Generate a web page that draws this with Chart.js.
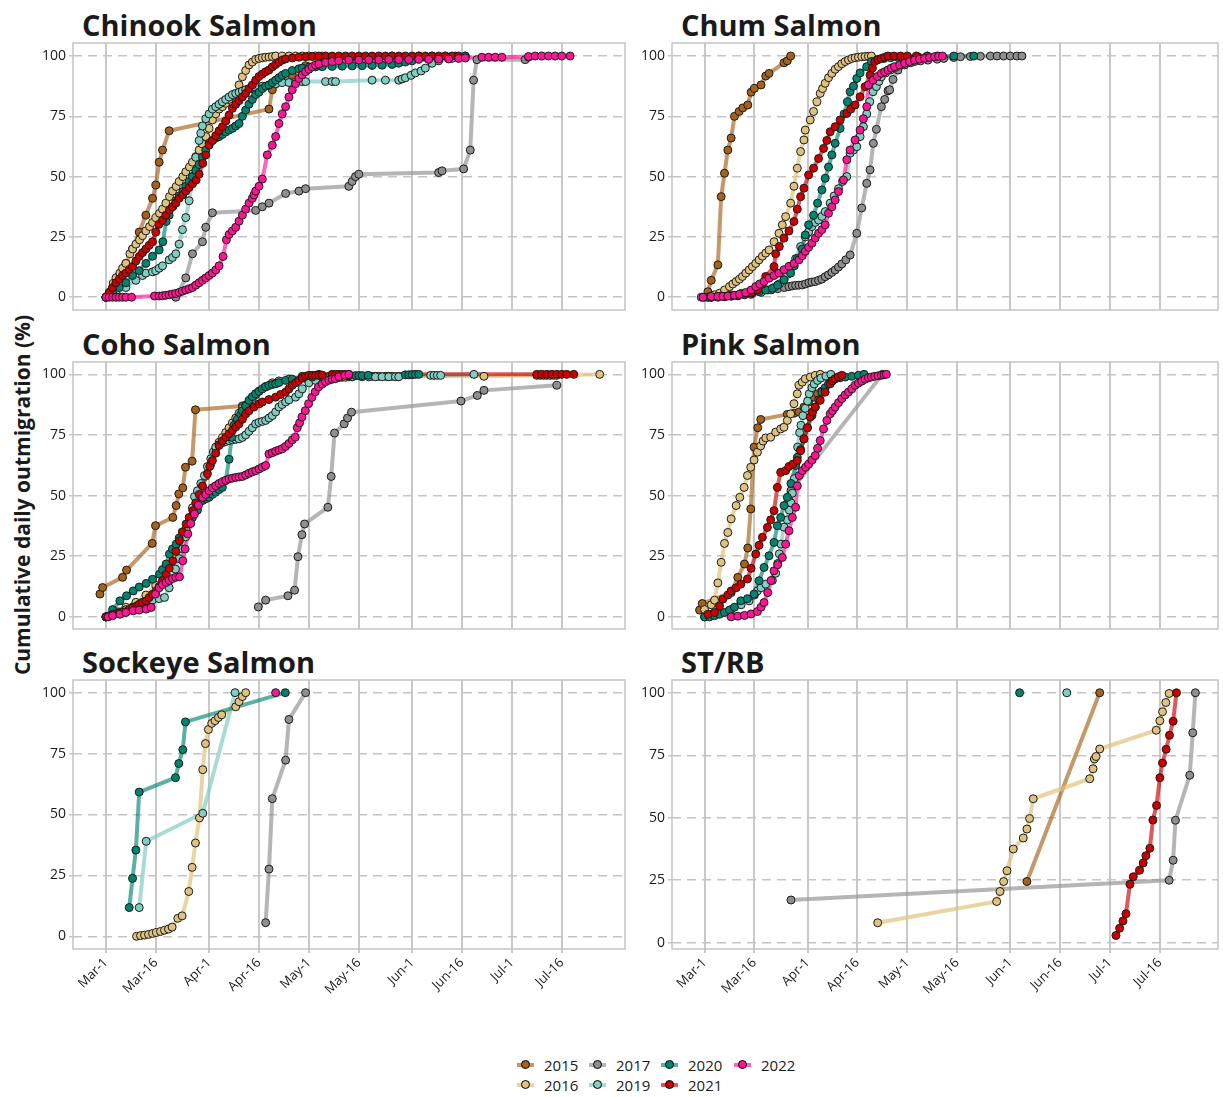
<!DOCTYPE html>
<html>
<head>
<meta charset="utf-8">
<script src="https://cdn.jsdelivr.net/npm/chart.js@4.4.1/dist/chart.umd.min.js"></script>
<style>
  body { margin: 0; background: #fff; font-family: "Open Sans", sans-serif; }
  #page { position: relative; width: 1223px; height: 1097px; overflow: hidden; }
  canvas { position: absolute; }
  .title { position: absolute; font-weight: 700; font-size: 29px; line-height: 34px; color: #1a1a1a; white-space: nowrap; }
  #ytitle { position: absolute; width: 420px; left: -188px; top: 483px; text-align: center;
            font-weight: 700; font-size: 21px; line-height: 24px; color: #1a1a1a; transform: rotate(-90deg); }
  .leg { position: absolute; font-size: 15px; line-height: 18px; color: #1a1a1a; }
  .sw { position: absolute; width: 17px; height: 4px; top: 7px; }
  .dot { position: absolute; width: 7px; height: 7px; border: 1px solid #000; border-radius: 50%; top: 4px; left: 4px; }
</style>
</head>
<body>
<div id="page">
  <div class="title" style="left:82px;top:8px">Chinook Salmon</div>
  <div class="title" style="left:681px;top:8px">Chum Salmon</div>
  <div class="title" style="left:82px;top:327px">Coho Salmon</div>
  <div class="title" style="left:681px;top:327px">Pink Salmon</div>
  <div class="title" style="left:82px;top:645px">Sockeye Salmon</div>
  <div class="title" style="left:681px;top:645px">ST/RB</div>
  <div id="ytitle">Cumulative daily outmigration (%)</div>
  <canvas id="chinook"></canvas>
  <canvas id="chum"></canvas>
  <canvas id="coho"></canvas>
  <canvas id="pink"></canvas>
  <canvas id="sockeye"></canvas>
  <canvas id="strb"></canvas>
  <div id="legend"></div>
</div>
<script>
// x = days after Mar-1, y = cumulative %
const tickDays = [0, 15, 31, 46, 61, 76, 92, 107, 122, 137];
const tickLabels = ['Mar-1', 'Mar-16', 'Apr-1', 'Apr-16', 'May-1', 'May-16', 'Jun-1', 'Jun-16', 'Jul-1', 'Jul-16'];
const yTicks = [0, 25, 50, 75, 100];
const years = ['2015', '2016', '2017', '2019', '2020', '2021', '2022'];
const pointColors = ['#a6611a', '#dfc27d', '#8f8f8f', '#80cdc1', '#018571', '#cc0000', '#ff1493'];
const lineColors = ['rgba(166,97,26,0.65)', 'rgba(223,194,125,0.7)', 'rgba(150,150,150,0.7)', 'rgba(128,205,193,0.7)',
                    'rgba(1,133,113,0.65)', 'rgba(204,0,0,0.65)', 'rgba(255,20,147,0.65)'];

// Chinook
const chinook2015 = [[0,0],[2,4],[4,9],[6,14],[8,20],[10,27],[12,34],[14,41],[15,46.5],[16,56],[17,61],[19,69],[49,78],[50,86],[56,92],[60,96],[66,98.5],[74,99.5],[86,100],[94,100]];
const chinook2016 = [[1,2],[2.2,5.8],[3,8],[4.2,10],[5,12],[6,14],[7.2,18],[8,20],[9,22],[10.1,23.8],[11,25.5],[12,27.5],[13.1,29.3],[14,31],[15,33],[16.1,34.8],[17,36.5],[18,39],[19.1,41.7],[20,44],[21.1,45.9],[22,48],[23.1,50],[24,52],[25.1,54],[26,56],[27,58.3],[28,61],[29,63.5],[30,66.6],[31,70],[32,73.5],[33,76],[34,78],[35,79],[36,80.4],[37,82],[38,83.5],[39,84.5],[40,88],[41,91.4],[42,94],[43,96.3],[44,97.5],[45,98.6],[46,99],[47,99.3],[48,99.5],[49,99.6],[50,99.8],[51,100],[53,100],[55,100],[57,100],[59,100],[61,100],[63,100],[65,100]];
const chinook2017 = [[21,0],[24,8],[26,18],[29,23],[30,29],[32,35],[45,36],[47,37.5],[49,39],[54,43],[58,44],[60,45],[73,46],[74,48],[75,50],[76,51],[100,51.7],[101,52.4],[107.5,53.2],[109.5,61],[110.5,90],[111.5,98.5],[126,98.5],[127,99.5]];
const chinook2019 = [[0,0],[3,2],[6,4],[9,7],[11,9],[12,10],[14,10.5],[15,11],[16,12],[17,13],[19,15.5],[20,16.5],[21,18],[22,22],[23,28],[24,33],[25,40],[26,50],[27,58],[28,65],[28.5,68],[29,71],[30,74],[31,76],[32,78],[33,79],[34,80],[35,81],[36,82],[37,83],[38,84],[39,84.5],[40,85],[41,85.5],[42,86],[44,86.5],[45,87],[47,87.5],[49,88],[51,88.5],[53,89],[55,89],[57,89.2],[59,89.4],[60,89.4],[66,89.4],[68,89.4],[69,89.4],[80,90],[84,90],[88,90],[89,90.5],[90,91],[91.7,92],[93,93],[94.7,93.8],[96,95],[98,97],[100,98],[104,99],[108,100]];
const chinook2020 = [[0,0],[2,2],[4,4],[6,6],[8,9],[10,11],[12,14],[14,17],[16,19.6],[17.1,23],[18.1,31.4],[19,34],[20.1,37.6],[21,40],[22,42],[23.1,43.8],[24,46],[25,48],[26,50],[27,52.5],[28,55],[29,58],[30,61],[31,63.8],[32,65],[33,66],[34,66.6],[35,67.5],[36,68.5],[37,69.3],[38,70],[39,71],[40,72],[41,75],[42,77.6],[43,80],[44,82],[45,84],[46,85],[47,86.5],[48,87.5],[49,88],[50,89],[51,90],[52,91],[53,92],[54,92.8],[56,94],[58,94.7],[59,95],[61,95.3],[63,95.5],[65,95.6],[68,95.7],[71,95.8],[74,95.9],[77,96],[80,96.1],[83,96.2],[86,96.5],[88,97],[90,97.5],[92,98],[94,99],[96,99.5],[98,100],[102,100],[105,100],[108,100]];
const chinook2021 = [[0,0],[1,2],[2,4],[3,6],[4,7.5],[5,9],[6,10],[7,11.5],[8,12.7],[9,15],[10,16.9],[11,18.5],[12,20],[13,21.5],[14,23],[15,27],[15.9,30.2],[17,32],[18,34],[19.1,36.2],[20,37.5],[21,39],[22,41],[23.1,42.4],[24,44],[25,45.5],[26,47],[27.1,48.6],[28,51],[29.1,55.5],[30,59],[31,63],[32,65],[33,67],[34,69],[35,70.7],[36,73],[37,75.5],[38,78.3],[39,80],[40,81.5],[41,83],[42,84.5],[43,86.5],[44,88],[45,90],[46,91.5],[47,92.5],[48,93.5],[49,94.2],[50,95.5],[51,96.5],[52,97.5],[53,98.3],[54,98.8],[56,99.2],[58,99.5],[60,99.7],[62,99.8],[64,100],[66,100],[68,100],[70,100],[72,100],[74,100],[76,100],[78,100],[80,100],[82,100],[84,100],[86,100],[88,100],[90,100],[92,100],[94,100],[96,100],[98,100],[100,100],[102,100],[104,100],[106,100]];
const chinook2022 = [[0,0],[1,0],[2,0],[3,0],[4,0],[5,0],[6,0],[7.7,0],[14.6,0.5],[16,0.5],[17,0.6],[18,0.8],[19,1],[20,1.3],[21,1.5],[22,2],[23,2.5],[24,3],[25,3.5],[26,4],[27,5],[28,6],[29,7],[30,8],[31,9],[32,10],[33,11.3],[34,13],[35.2,16.9],[36.2,23.8],[37,26],[38,27.5],[39,29],[40,31.5],[41,34],[42,36.5],[43,39],[44,41],[44.5,42.4],[45,44],[46,46],[47,49],[48.5,59],[50,63],[51,66.6],[52,72],[53,76],[54,79],[55,83],[56,86],[57,88.5],[58,90.7],[59,92.2],[60,93.5],[61,94.5],[62,95.5],[63,96.3],[64,96.7],[66,97.3],[68,97.7],[70,98],[73,98.3],[76,98.3],[79,98.4],[82,98.4],[85,98.5],[88,98.5],[91,98.5],[94,98.6],[97,98.6],[100,98.7],[103,98.8],[106,99],[108,99.2],[113,99.5],[115,99.5],[117,99.5],[119,99.5],[127,99.8],[129,100],[131,100],[133,100],[135,100],[137,100],[139.5,100]];

// Chum
const chum2015 = [[0,0],[1,2.3],[2,7],[4,13.4],[5,41.7],[6,51.4],[7,61],[8,66],[9,75],[10.4,77],[11.5,78.5],[13,79.7],[14,85],[15,86.6],[17,88],[18.4,91.7],[19.4,92.8],[23.9,97.2],[24.9,98],[25.9,100]];
const chum2016 = [[1,0],[2,0.5],[3,1],[4.5,1.7],[6,3],[7.5,4.4],[8.5,5.5],[9.5,6.5],[10.5,7.5],[11.4,8.6],[12.4,10],[13.4,11.3],[14.4,12.7],[15.4,14],[16.4,15.5],[17.4,17],[18.4,18.3],[19.4,19.6],[20.9,23],[22.4,26.5],[23.4,30],[24.4,33.4],[25.9,39],[26.9,46],[27.9,53.5],[28.9,60.4],[29.9,65.2],[30.3,69.3],[31.8,73.5],[32.8,77],[33.8,81],[34.8,84.5],[35.5,86.5],[36.3,88.7],[37.3,91],[38.3,92.8],[39.3,94.5],[40.3,95.6],[41.3,96.8],[42.3,97.7],[43.3,98.4],[44.3,99],[45.3,99.3],[46.3,99.5],[47.3,99.7],[48.3,99.8],[49.3,99.9],[50.2,100]];
const chum2017 = [[-1,0],[2,0],[5,0.5],[8,1],[11,1.5],[14,2],[17,2.5],[20,3],[22,3.5],[24,4],[25.4,4.4],[26.4,4.7],[27.4,4.9],[28.4,5],[29.4,5.1],[30.4,5.5],[31.4,6],[32.3,6.3],[33.3,6.5],[34.3,7],[35.3,7.5],[36.3,8.5],[37.3,9.3],[38.3,10.3],[39.3,11.3],[40.3,12.5],[41.3,13.8],[42.5,15.5],[43.8,17.5],[45.8,26.5],[47.3,37],[48.8,47.2],[49.8,52.8],[50.8,63.8],[51.7,69.6],[53.2,79],[54.2,82],[55.2,85.6],[55.7,86],[56.7,90.3],[58.2,94.2],[60.2,96.3],[62,97.2],[63.2,97.7],[65,98],[67.2,98.3],[70,98.7],[72,99],[75,99.4],[77,99.7],[80,99.8],[83,99.9],[86,100],[88,100],[90,100],[92,100],[94,100],[95.5,100]];
const chum2019 = [[2,0],[6,0.3],[10,0.7],[14,1.2],[17,2],[19,3],[21,4],[22.5,5.5],[23.9,7.2],[25,9.5],[26.4,12.7],[27.4,16],[28.9,21],[30.3,25],[31.3,27],[32.3,29.3],[33.3,31],[34.3,32],[35.3,33.5],[36.3,35.5],[37.8,39],[39,42],[40.3,45],[41.5,48],[42.8,50],[43.8,59.7],[44.8,61],[45.8,62.4],[46.8,66.6],[47.8,70.7],[48.8,76],[49.7,81],[50.7,85.2],[51.7,87.3],[52.5,89.5],[53.2,91.4],[54.5,93],[56,94.2],[57.5,95.3],[59.2,96.3],[61,97.3],[63,98.3],[65,99.2],[67,100]];
const chum2020 = [[1,0],[4,0.3],[7,0.6],[10,0.9],[12,1.2],[14.4,1.7],[16.4,2.3],[18.4,3],[20.4,3.7],[22,5],[23.9,7.2],[25.9,10],[27,13],[27.9,16],[29.4,20],[30.3,25.8],[31.3,30],[32.8,34],[34,39],[35.3,44.5],[36.3,49.3],[37.3,54],[38.3,59],[39.3,63.8],[40.8,70],[42,76],[43,81],[43.8,85.2],[44.8,87.5],[45.8,90.7],[46.8,93],[48.8,95.6],[50.2,97.7],[52,98.5],[54,99],[56,99.3],[58,99.5],[61,99.7],[64,99.8],[67,99.9],[70,100],[75,100],[81,100]];
const chum2021 = [[2,0],[4,0],[6,0.2],[8,0.4],[10,0.6],[12,1],[14,1.7],[16,3],[17.4,5.5],[18.4,8.6],[20.9,12.7],[21.4,18],[22.5,21],[23.9,24.5],[25.4,27.5],[26.9,31.4],[27.9,36.5],[28.9,41.7],[29.9,45.2],[31.3,50.7],[32.8,53.5],[34.3,57.5],[35.8,61.7],[36.8,65],[37.8,68.6],[39.3,70.7],[40.8,73.5],[42.8,76.2],[44,78],[45.3,79.7],[46.8,83.1],[48.3,87.3],[49.8,92.1],[50.5,95],[51.2,97.7],[52.2,98.5],[53.2,99],[54.2,99.5],[55.2,100],[57,100],[59,100],[61,100],[63.7,100]];
const chum2022 = [[-0.5,0],[2,0.3],[4,0.3],[5.5,0.4],[7,0.5],[9,0.8],[10.5,1.2],[12.4,1.9],[14,3],[15.4,4.4],[16.6,5.5],[17.9,6.5],[19.4,7.9],[20.9,9],[22.4,10],[23.9,11.4],[25.4,12.8],[26.9,14],[28.4,15.5],[29.4,17.2],[30.3,19],[31.3,20.7],[32.3,22.4],[33.3,24.5],[34.3,26.5],[35.3,28],[36.3,30],[37.3,34.8],[38.3,37.5],[39.3,40.3],[40.3,43.8],[41.8,48.6],[42.8,57],[43.8,61],[45.3,65.2],[46.8,69.3],[47.8,74],[48.8,79],[49.3,88],[50.7,90],[52,91.5],[53.2,92.8],[54.2,93.5],[55.2,94.2],[56.2,95],[57.2,95.6],[58.7,96.3],[60.2,97],[61.7,97.7],[63.2,98.3],[64.7,98.7],[66.2,99],[67.7,99.4],[69.2,99.7],[70.4,99.9],[71.6,100]];

// Coho
const coho2015 = [[-1.8,9.4],[-1,12.1],[5,16.3],[6.2,19.3],[13.9,30.3],[14.9,37.6],[20.1,41],[21.1,45.9],[21.9,50.7],[23.1,53.2],[23.9,61.7],[25.9,64.2],[26.9,85.4],[41,87],[45,92],[52,97],[59,99.2],[64,100]];
const coho2016 = [[0,0],[3,2],[6,4],[9,6],[12,9],[15,13],[18,18],[21,25],[24,36],[26,45],[28,52],[30,58],[31.5,63],[33,69.3],[34,72],[35,74],[36,76],[37,78],[38,80],[39,82],[40,84],[41,86],[42,87.3],[43,88.6],[44,90],[45,91.5],[46,93],[48,95],[50,96.5],[52,97.3],[55,98],[60,98.3],[65,98.5],[71,98.8],[72,98.8],[73,99],[74,99],[80,99.2],[81,99.2],[82,99.2],[84,99.2],[85,99.2],[86,99.2],[88,99.2],[113.6,99.2],[129.5,99.6],[130.5,99.6],[131.5,99.6],[132.5,99.6],[133.5,99.6],[134.5,99.6],[135.5,99.6],[148.4,100]];
const coho2017 = [[45.8,4.1],[48,6.9],[54.7,8.7],[56.7,11],[57.7,24.8],[58.9,33.9],[59.7,38.3],[66.7,45.2],[67.7,57.9],[68.7,75.8],[71.6,79.6],[72.6,82],[73.8,84.4],[106.7,89],[111.6,91.3],[113.6,93.4],[135.5,95.5]];
const coho2019 = [[0,0],[2,1],[4,2],[6,3],[8,4],[10,5],[12,6],[14,7],[16,7.5],[17.6,8],[19,12],[20.9,19.7],[22,24],[23,28],[24,33],[25,39],[26.6,49.6],[27.5,52],[28.5,55],[29.6,58.3],[30.5,62],[31.5,65.2],[32.3,68],[33,70],[34,71],[35,71.8],[36,72.3],[37,72.7],[38,73],[39,73.2],[40,73.4],[41,74],[42,75],[43,76.5],[44,78],[45,79.6],[46,80.2],[47,80.6],[48,81],[49,82],[50,83],[51,84.5],[52,86.5],[53,87.6],[54,88.6],[55,89.5],[57,90.6],[58,92],[59,94],[61,96.5],[63,97.5],[66,98.3],[70,98.7],[74,99],[77,99],[79,99],[81,99],[83,99],[85,99],[87,99],[88,99],[97.6,99.6],[98.6,99.6],[99.6,99.6],[100.6,99.6],[110.6,100]];
const coho2020 = [[0,0],[2,3],[4.2,6.6],[6.2,8.7],[8.2,10.7],[10,12.3],[12.1,13.8],[14,15.5],[16.1,17.6],[17,19.5],[18.1,21.8],[19.1,25.9],[20,28],[21.1,30],[22,32.5],[23,35],[24.6,38.3],[26,41],[27.5,44],[29.1,48],[30,48.7],[31,49.3],[32,50.5],[33,51.4],[34,52.5],[35,53.4],[36,56.2],[37,65],[37.8,74],[38.5,79],[39.5,81.5],[40.5,83.5],[41,85],[42,87],[43,89.3],[44,90.8],[45,92],[46,93],[47,94],[48,94.8],[49,95.4],[50,95.8],[51,96.1],[52,96.6],[54,97.5],[56,98],[59,98.6],[62,98.9],[65,99.1],[67,99.2],[70,99.3],[73,99.4],[75,99.5],[76,99.5],[77,99.5],[78.8,99.6],[90,99.8],[91,99.8],[92,99.9],[93,100],[94,100]];
const coho2021 = [[0,0],[1,0.5],[2,1],[3,1.3],[4,1.7],[5,2],[6.2,2.2],[7,3],[8,3.7],[9.2,4.5],[10,5.2],[11,6],[12.1,6.6],[13,8],[14,9.3],[15.1,10.7],[16,12.5],[17,15],[18.1,17.6],[19,20],[20.1,23.1],[21,27],[22.1,31.4],[23,35],[24.1,38.3],[25,41],[26.1,43.8],[27,47],[28,50.5],[29,54],[30.5,59],[31.2,62],[32,64.5],[33,67.5],[34,70.7],[35,72.5],[36,74.1],[37,75.5],[38,76.9],[39,78.3],[40,79.6],[41,81.5],[42,83.7],[43,85],[44.5,86.5],[46,87.8],[47,88.6],[49,89.6],[51,90.6],[52.5,91.7],[54,92.7],[55,94],[56,95.5],[57,96.5],[58,97.5],[59,98.5],[60,99.2],[61,99.6],[62,99.6],[63,99.6],[64,99.6],[65,99.7],[68,100],[69,100],[70,100],[71,100],[72,100],[73,100],[129.5,100],[131,100],[132.5,100],[134,100],[135.5,100],[137,100],[138.5,100],[140.6,100]];
const coho2022 = [[0.7,0],[2,0.5],[4.2,1.1],[6,1.8],[8.2,2.5],[10,2.8],[12.1,3.2],[13.6,3.9],[14.9,9.4],[16,12],[17,13.3],[18.1,14.2],[19,15],[20,15.8],[21,16.3],[22.1,16.5],[23.1,23.1],[23.8,28],[24.6,34.2],[25.5,38.5],[26.6,42.4],[27.8,46],[29.1,49.3],[30,50.5],[31,52],[32,53.2],[33,54.1],[34,55],[35,55.7],[36,56.3],[37,56.9],[38,57.2],[39,57.5],[40,57.7],[41,57.9],[42,58.5],[43,59.2],[44,59.8],[45,60.3],[46,61],[47,61.7],[48,62.4],[49,67.2],[50,67.7],[51,68.3],[52,68.8],[53,69.3],[54,70.3],[55,71.5],[56,73],[56.9,74.1],[57.5,78],[58.2,80],[58.9,82.4],[59.9,85],[60.9,87.9],[61.9,90.5],[62.9,92.8],[63.9,94.8],[65,96],[66,97],[67,97.6],[68,98],[68.9,98.2],[70,99],[71.8,99.6],[73,100]];

// Pink
const pink2015 = [[-1.5,2.8],[-0.7,5.5],[8,10],[10,16.3],[12,21.8],[13,28.4],[13.9,44.5],[14.9,70],[16,78],[16.9,81.4],[24.9,83.5],[27,84],[28.4,84.5],[29.9,86.5],[31.3,88.6],[32.8,90.6],[34,92],[35.3,93.1]];
const pink2016 = [[0,3],[2,5],[3,6.9],[4,14],[5,22.5],[6,30.3],[7,34.8],[8,40.4],[9.5,45.9],[10.6,49.3],[11.9,53.4],[12.9,58.3],[13.9,61.7],[14.9,64.7],[15.9,67.9],[16.9,70.5],[17.6,72.5],[18.4,73.8],[19.9,74.1],[21.4,76.2],[22.9,77.5],[23.9,78.2],[24.9,81],[25.9,83.7],[26.9,87.9],[27.9,92],[28.4,95.5],[29.4,96.8],[30.3,98.2],[31.8,98.9],[33.3,99.6],[34.8,100]];
const pink2017 = [[25.5,48],[26,52],[53.5,100]];
const pink2019 = [[0,0],[2,1],[5,2],[8,3],[11,5],[13.4,6.6],[15,9],[15.9,10.7],[17,12],[18.4,13.5],[20.4,15],[21.4,18],[22,22],[22.5,26],[23,30],[23.9,37],[24.9,40],[25.5,44],[26,47],[26.4,51],[27,57],[27.4,63],[28,70],[28.6,76],[29,79],[29.6,83],[30.3,86],[31,89],[31.5,92],[32.3,94.5],[33,96],[34,97.5],[35,98.5],[36.5,99.3],[38,100]];
const pink2020 = [[0,0],[1.5,0],[3,0.5],[4.5,1.1],[6,1.8],[7.5,2.8],[9,4],[10.9,6.6],[12.9,7.5],[14.9,9.4],[16.4,14.9],[17.9,20.4],[19.4,25.2],[20.9,30.7],[21.9,37.6],[22.9,41],[23.9,45.9],[24.9,49.3],[26,55],[27.4,62.4],[27.9,65.8],[28.9,69],[29.9,73.4],[31,78],[32.3,83],[33.3,86.5],[34.3,89.5],[35.3,92.7],[36.3,94.5],[37.3,96.1],[38.3,97.3],[39.3,98.2],[40.8,98.6],[42.3,98.9],[44.3,99.2],[46.3,99.6],[48,100]];
const pink2021 = [[1,1.1],[3,1.8],[4.5,4.5],[5.5,7.3],[7,9],[8,10.7],[9.5,12],[10.9,13.5],[12.9,15.6],[14,20],[15.4,25.9],[16.4,29.5],[17.4,32.8],[18.9,36.9],[19.9,40],[20.9,43.8],[21.9,53.4],[22.9,59.6],[24.4,60.3],[25.4,62],[26.6,63],[27.9,64.5],[28.9,68.5],[29.9,73.4],[30.9,78],[31.8,82.4],[32.5,84.5],[33.3,86.5],[34.8,89.3],[36.3,92.7],[37.8,96.1],[38.5,97.3],[39.3,98.2],[40.3,99],[41.3,99.6]];
const pink2022 = [[8,0],[10,0.3],[12,0.6],[14,1.2],[15.9,2.2],[17,4],[17.9,5.9],[19,10],[20,15],[20.9,19],[22,21.5],[23.4,24.5],[24.4,30],[25.4,35.5],[26.4,41],[27.4,45.2],[27.9,54],[28.5,58.3],[29.4,60.3],[30.4,61.7],[31.3,63],[32.3,64.7],[33.3,66.5],[34,69.5],[34.8,72.7],[35.8,77.5],[36.8,81],[37.8,83.7],[38.5,85],[39.3,86.5],[40.3,88.3],[41.3,90],[42.3,91.5],[43.3,92.7],[44.3,94],[45.3,95.5],[46.3,96.4],[47.3,97.2],[48.3,98],[49.3,98.6],[50.2,98.9],[51.2,99.2],[52.2,99.4],[53.2,99.6],[54,99.8],[54.7,100]];

// Sockeye
const sockeye2016 = [[9.2,0],[10.4,0.3],[11.6,0.5],[12.8,0.8],[14,1.2],[15.2,1.6],[16.4,2],[17.6,2.5],[18.8,3],[19.9,3.8],[21.6,7.4],[22.9,8.4],[24.9,18.4],[25.9,28.3],[26.9,38.3],[28.1,48.6],[29.1,68.4],[29.9,79.1],[30.8,84.9],[31.8,87.4],[32.8,88.5],[33.8,89.8],[34.8,90.9],[39,94.2],[40,96.3],[41,98.4],[42,100]];
const sockeye2017 = [[48,5.6],[49,27.6],[50,56.5],[54,72.3],[55,89],[60,100]];
const sockeye2019 = [[10,11.8],[12.1,39],[29.1,50.5],[38.8,100]];
const sockeye2020 = [[7,11.8],[8,23.8],[9,35.4],[10,59.2],[20.9,65.1],[21.9,70.9],[23.1,76.6],[23.9,88],[53.9,100]];
const sockeye2022 = [[51,100]];

// ST/RB
const strb2015 = [[97,24.5],[118.9,100]];
const strb2016 = [[52.1,8],[87.9,16.5],[88.9,20.5],[90,24.5],[91,28.8],[92.9,37.5],[95.9,41.9],[97,45.5],[97.8,49.7],[98.9,57.6],[115.9,65.6],[116.9,69.6],[117.3,73.5],[117.8,74.5],[118.9,77.5],[135.9,85],[137,88.8],[137.8,92.4],[138.8,96.1],[139.8,99.7]];
const strb2017 = [[26,17.1],[139.8,25],[141,33],[141.7,49],[146,67],[146.9,84],[147.7,100]];
const strb2019 = [[109,100]];
const strb2020 = [[94.8,100]];
const strb2021 = [[123.8,2.9],[124.9,5.8],[125.9,8.7],[126.8,11.6],[128,23.4],[129,26.4],[130.9,29],[132,31.9],[132.8,34.8],[134,37.8],[134.9,49.1],[136,54.9],[137,66],[137.8,71.9],[138.9,77.4],[139.9,83],[141,88.6],[142,100]];

Chart.defaults.font.family = "'Open Sans', sans-serif";
Chart.defaults.color = '#1a1a1a';

// 面板外框
const frame = {
    id: 'frame',
    afterDraw(chart) {
        const a = chart.chartArea, ctx = chart.ctx;
        ctx.save();
        ctx.strokeStyle = '#c4c4c4';
        ctx.lineWidth = 1.5;
        ctx.strokeRect(a.left, a.top, a.right - a.left, a.bottom - a.top);
        ctx.restore();
    }
};

function makePanel(id, series, box) {
    const canvas = document.getElementById(id);
    canvas.width = box.w;
    canvas.height = box.h;
    canvas.style.left = box.left + 'px';
    canvas.style.top = box.top + 'px';

    const datasets = [];
    series.forEach((pts, i) => {
        if (!pts) return;
        const data = pts.map(p => ({ x: p[0], y: p[1] }));
        datasets.push({
            label: years[i], data, showLine: true, pointRadius: 0,
            borderColor: lineColors[i], borderWidth: 4, borderJoinStyle: 'round', borderCapStyle: 'round',
            tension: 0, order: 100 - i
        });
        datasets.push({
            label: years[i] + ' pts', data, showLine: false, pointRadius: 4,
            pointBackgroundColor: pointColors[i], pointBorderColor: '#1a1a1a', pointBorderWidth: 1,
            order: 50 - i
        });
    });

    new Chart(canvas, {
        type: 'scatter',
        data: { datasets },
        options: {
            responsive: false,
            animation: false,
            layout: { padding: { top: 5, right: box.padRight, bottom: box.showX ? 0 : 2, left: 0 } },
            plugins: { legend: { display: false }, tooltip: { enabled: false } },
            scales: {
                x: {
                    type: 'linear', min: box.xMin, max: box.xMax,
                    afterBuildTicks: s => { s.ticks = tickDays.map(v => ({ value: v })); },
                    afterFit: s => {
                        s.height = box.showX ? 52 : 0;
                        s.paddingLeft = 0; s.paddingRight = 0;
                    },
                    grid: { color: '#c8c8c8', lineWidth: 2, drawTicks: box.showX, tickLength: 4 },
                    border: { display: false },
                    ticks: {
                        display: box.showX, autoSkip: false, minRotation: 45, maxRotation: 45,
                        font: { size: 13 }, color: '#1a1a1a', padding: 2,
                        callback: v => tickLabels[tickDays.indexOf(v)]
                    }
                },
                y: {
                    type: 'linear', min: box.yMin, max: box.yMax,
                    afterBuildTicks: s => { s.ticks = yTicks.map(v => ({ value: v })); },
                    afterFit: s => {
                        s.width = 43;
                        s.paddingTop = 0; s.paddingBottom = 0;
                    },
                    grid: { color: '#c4c4c4', lineWidth: 1.5, tickLength: 4 },
                    border: { display: false, dash: [9, 6] },
                    ticks: { font: { size: 14 }, color: '#1a1a1a', padding: 3 }
                }
            }
        },
        plugins: [frame]
    });
}

const L = { left: 30, w: 600, padRight: 1.5, xMin: -9.9, xMax: 156 };
const R = { left: 629, w: 594, padRight: 1, xMin: -9.8, xMax: 154.5 };

makePanel('chinook', [chinook2015, chinook2016, chinook2017, chinook2019, chinook2020, chinook2021, chinook2022],
    { ...L, top: 38, h: 277, yMin: -5.3, yMax: 105.4, showX: false });
makePanel('chum', [chum2015, chum2016, chum2017, chum2019, chum2020, chum2021, chum2022],
    { ...R, top: 38, h: 277, yMin: -5.3, yMax: 105.4, showX: false });
makePanel('coho', [coho2015, coho2016, coho2017, coho2019, coho2020, coho2021, coho2022],
    { ...L, top: 357, h: 277, yMin: -5, yMax: 105.1, showX: false });
makePanel('pink', [pink2015, pink2016, pink2017, pink2019, pink2020, pink2021, pink2022],
    { ...R, top: 357, h: 277, yMin: -5, yMax: 105.1, showX: false });
makePanel('sockeye', [null, sockeye2016, sockeye2017, sockeye2019, sockeye2020, null, sockeye2022],
    { ...L, top: 675, h: 326, yMin: -5.2, yMax: 105.2, showX: true });
makePanel('strb', [strb2015, strb2016, strb2017, strb2019, strb2020, strb2021, null],
    { ...R, top: 675, h: 326, yMin: -2.5, yMax: 105.1, showX: true });

// 圖例
const legendSlots = [[517, 1056], [517, 1076], [589, 1056], [589, 1076], [661, 1056], [661, 1076], [734, 1056]];
const legend = document.getElementById('legend');
years.forEach((yr, i) => {
    const [x, y] = legendSlots[i];
    const item = document.createElement('div');
    item.className = 'leg';
    item.style.left = x + 'px';
    item.style.top = y + 'px';
    item.innerHTML = `<span class="sw" style="left:0;background:${lineColors[i]}"></span>` +
        `<span class="dot" style="background:${pointColors[i]}"></span>` +
        `<span style="position:absolute;left:27px;top:0">${yr}</span>`;
    legend.appendChild(item);
});
</script>
</body>
</html>
